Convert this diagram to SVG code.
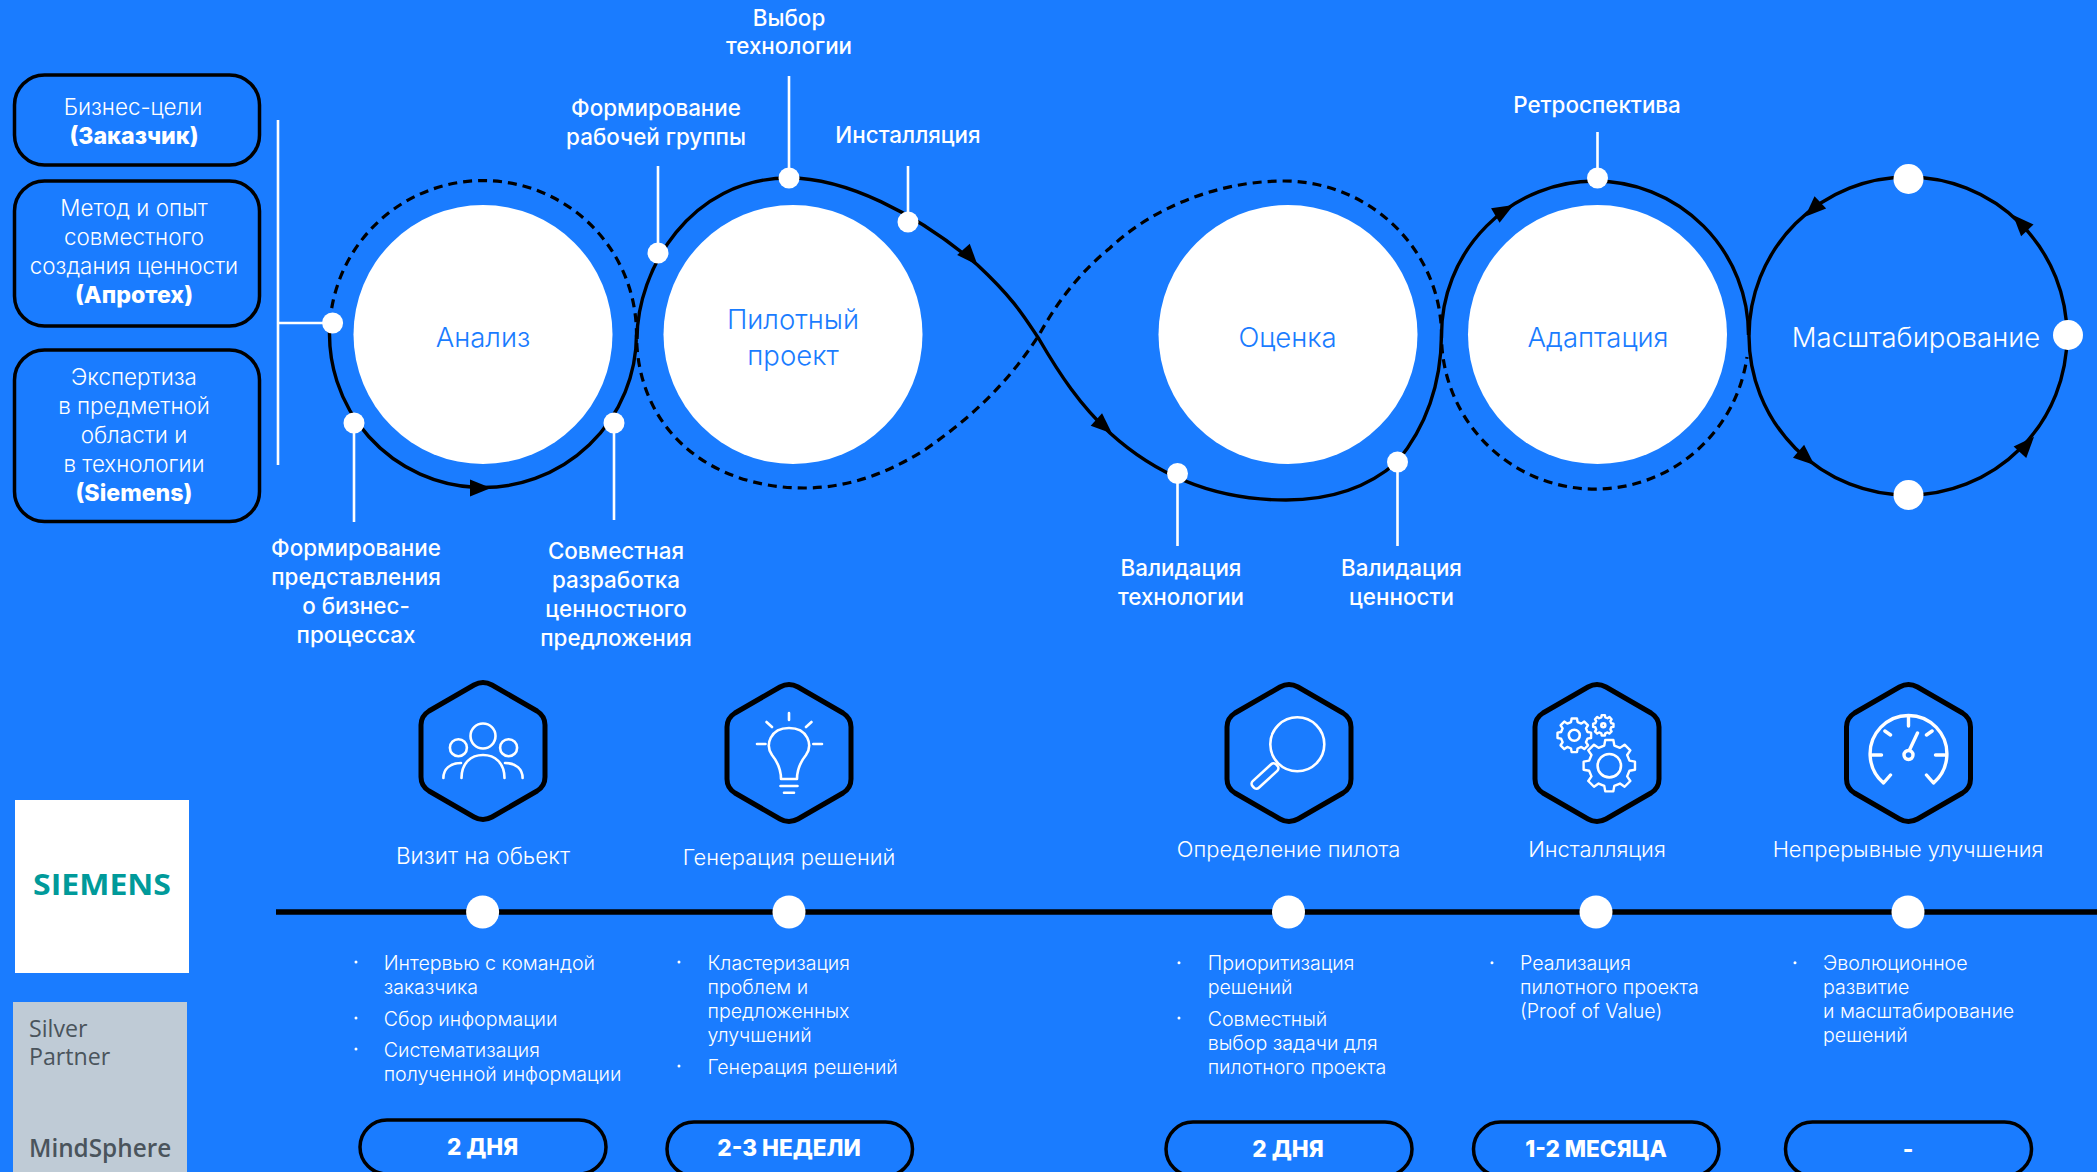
<svg xmlns="http://www.w3.org/2000/svg" width="2097" height="1172" viewBox="0 0 2097 1172">
<style>
text{font-family:"Inter","Liberation Sans",sans-serif;fill:#fff;font-weight:300}
.m{text-anchor:middle}
.box{font-size:22.4px}
.box.b{font-size:23.2px;font-weight:800}
.lab{font-size:22.4px;font-weight:500;text-anchor:middle}
.cir{font-size:27.5px;fill:#1a7cff;text-anchor:middle}
.tit{font-size:21.9px;text-anchor:middle}
.li{font-size:19.6px}
.pt{font-size:22.6px;font-weight:800;text-anchor:middle}
.logo{font-family:"Open Sans","Liberation Sans",sans-serif;fill:#4a545c;font-size:23.2px;font-weight:400}
.frame{fill:none;stroke:#000;stroke-width:3.5}
.hex{fill:none;stroke:#000;stroke-width:5}
.ico{fill:none;stroke:#fff;stroke-width:2.6;stroke-linecap:round;stroke-linejoin:round}
.ico2{stroke-width:3.4}
.gear{fill:none;stroke:#fff;stroke-width:2.4;stroke-linejoin:round;vector-effect:non-scaling-stroke}
.sol{fill:none;stroke:#000;stroke-width:3.4}
.das{fill:none;stroke:#000;stroke-width:3.2;stroke-dasharray:9 6}
.lead{stroke:#fff;stroke-width:2.6;fill:none}
.dot{fill:#fff}
.wc{fill:#fff}
</style>
<defs>
<path id="hexa" class="hex" d="M-9,-66 Q0,-71 9,-66 L54,-40 Q62,-35 62,-26 L62,26 Q62,35 54,40 L9,66 Q0,71 -9,66 L-54,40 Q-62,35 -62,26 L-62,-26 Q-62,-35 -54,-40 Z"/>
<polygon id="ah" points="0,0 -21,-8.5 -21,8.5" fill="#000"/>
<polygon id="gr" class="gear" points="77.6,-19.4 98.8,-15.6 98.8,15.6 77.6,19.4 68.6,41.1 80.9,58.8 58.8,80.9 41.1,68.6 19.4,77.6 15.6,98.8 -15.6,98.8 -19.4,77.6 -41.1,68.6 -58.8,80.9 -80.9,58.8 -68.6,41.1 -77.6,19.4 -98.8,15.6 -98.8,-15.6 -77.6,-19.4 -68.6,-41.1 -80.9,-58.8 -58.8,-80.9 -41.1,-68.6 -19.4,-77.6 -15.6,-98.8 15.6,-98.8 19.4,-77.6 41.1,-68.6 58.8,-80.9 80.9,-58.8 68.6,-41.1"/>
</defs>
<rect width="2097" height="1172" fill="#1a7cff"/>

<g id="input-1"><rect class="frame" x="14.500" y="75" width="245" height="90" rx="30"/><text class="box m" x="133" y="114.500">Бизнес-цели</text><text class="box m b" x="134" y="144">(Заказчик)</text></g>
<g id="input-2"><rect class="frame" x="14.500" y="181" width="245" height="145" rx="30"/><text class="box m" x="134" y="216">Метод и опыт</text><text class="box m" x="134" y="245">совместного</text><text class="box m" x="134" y="274">создания ценности</text><text class="box m b" x="134" y="303">(Апротех)</text></g>
<g id="input-3"><rect class="frame" x="14.500" y="350" width="245" height="171.500" rx="30"/><text class="box m" x="134" y="385">Экспертиза</text><text class="box m" x="134" y="414">в предметной</text><text class="box m" x="134" y="443">области и</text><text class="box m" x="134" y="472">в технологии</text><text class="box m b" x="134" y="501">(Siemens)</text></g>

<g id="connectors">
<path class="lead" d="M278 120V465M278 323H333M354 423V522M614 423V520M658 253V166M789 178V76M908 222V166M1177.500 473V546M1397.500 462V546M1597.500 178V132"/>
<path class="das" d="M329.900 323A153.500 153.500 0 0 1 636.500 334.500C637 430 710 488 804 488C850 488 890 472 926 449C975 415 1010 380 1039 335C1060 297 1083 270 1110 248C1150 210 1215 181 1284 181C1370 181 1441 250 1441.500 335A153.500 153.500 0 0 0 1747 357"/>
<path class="sol" d="M329.900 323A153.500 153.500 0 1 0 636.500 334.500L637 339C637 270 690 178 789 178C845 178 915 212 977.500 265C1015 300 1025 318 1039 339C1060 375 1080 405 1110 433C1165 483 1225 500 1286 500C1335 500 1372 484 1397 462C1425 428 1441 385 1441.500 335A153.500 154 0 0 1 1748.500 335"/>
<circle class="sol" cx="1908" cy="336" r="159"/>
<path d="M276 912H2097" stroke="#000" stroke-width="5.500" fill="none"/>
<use href="#ah" transform="translate(491 488) rotate(0)"/>
<use href="#ah" transform="translate(977.500 265) rotate(48)"/>
<use href="#ah" transform="translate(1112 433.500) rotate(42)"/>
<use href="#ah" transform="translate(1513.500 205) rotate(-30)"/>
<use href="#ah" transform="translate(1805 216.700) rotate(137)"/>
<use href="#ah" transform="translate(2013 215) rotate(-133)"/>
<use href="#ah" transform="translate(2034 436.700) rotate(-48)"/>
<use href="#ah" transform="translate(1814.400 465) rotate(41)"/>
</g>

<g id="stage-analysis"><circle class="wc" cx="483" cy="334.500" r="129.500"/><text class="cir" x="483" y="347">Анализ</text></g>
<g id="stage-pilot"><circle class="wc" cx="793" cy="334.500" r="129.500"/><text class="cir" x="793" y="329">Пилотный</text><text class="cir" x="793" y="365">проект</text></g>
<g id="stage-eval"><circle class="wc" cx="1288" cy="334.500" r="129.500"/><text class="cir" x="1287.500" y="347">Оценка</text></g>
<g id="stage-adapt"><circle class="wc" cx="1597.500" cy="334.500" r="129.500"/><text class="cir" x="1598" y="347">Адаптация</text></g>
<g id="stage-scale"><text class="cir" style="fill:#fff" x="1916" y="347">Масштабирование</text></g>

<g id="dots">
<circle class="dot" cx="332.600" cy="323" r="10.500"/><circle class="dot" cx="354" cy="423" r="10.500"/><circle class="dot" cx="614" cy="423" r="10.500"/>
<circle class="dot" cx="658" cy="253" r="10.500"/><circle class="dot" cx="789" cy="178" r="10.500"/><circle class="dot" cx="908" cy="222" r="10.500"/>
<circle class="dot" cx="1177.500" cy="473.500" r="10.500"/><circle class="dot" cx="1397.500" cy="462" r="10.500"/><circle class="dot" cx="1597.500" cy="178" r="10.500"/>
<circle class="dot" cx="1908.500" cy="179" r="15"/><circle class="dot" cx="1908.500" cy="495" r="15"/><circle class="dot" cx="2068" cy="335" r="15"/>
<circle class="dot" cx="482.600" cy="912" r="16.500"/><circle class="dot" cx="789" cy="912" r="16.500"/><circle class="dot" cx="1288.500" cy="912" r="16.500"/><circle class="dot" cx="1596" cy="912" r="16.500"/><circle class="dot" cx="1908" cy="912" r="16.500"/>
</g>

<g id="labels">
<text class="lab" x="356" y="556">Формирование</text><text class="lab" x="356" y="585">представления</text><text class="lab" x="356" y="614">о бизнес-</text><text class="lab" x="356" y="643">процессах</text>
<text class="lab" x="616" y="559">Совместная</text><text class="lab" x="616" y="587.500">разработка</text><text class="lab" x="616" y="616.500">ценностного</text><text class="lab" x="616" y="645.500">предложения</text>
<text class="lab" x="656" y="116">Формирование</text><text class="lab" x="656" y="145">рабочей группы</text>
<text class="lab" x="789" y="25.500">Выбор</text><text class="lab" x="789" y="54">технологии</text>
<text class="lab" x="908" y="142.500">Инсталляция</text>
<text class="lab" x="1181" y="576">Валидация</text><text class="lab" x="1181" y="605">технологии</text>
<text class="lab" x="1401.500" y="576">Валидация</text><text class="lab" x="1401.500" y="605">ценности</text>
<text class="lab" x="1597" y="112.700">Ретроспектива</text>
</g>

<g id="step-1">
<use href="#hexa" transform="translate(483 751)"/>
<g class="ico" transform="translate(483 751)"><circle cx="0" cy="-15" r="12.500"/><circle cx="-24.600" cy="-3.300" r="8.500"/><circle cx="25.600" cy="-3.300" r="8.500"/><path d="M-21.500 27C-21.500 12 -12 4 0 4S21.500 12 21.500 27M-39.600 27C-39.600 18 -33 12 -22 12M39.600 27C39.600 18 33 12 22 12"/></g>
<text class="tit" x="483" y="864" style="font-size:22.600px">Визит на обьект</text>
<circle class="dot" cx="356" cy="962" r="1.500"/><circle class="dot" cx="356" cy="1018" r="1.500"/><circle class="dot" cx="356" cy="1049" r="1.500"/>
<text class="li" x="383.700" y="970">Интервью с командой</text><text class="li" x="383.700" y="994">заказчика</text><text class="li" x="383.700" y="1026">Сбор информации</text><text class="li" x="383.700" y="1057">Систематизация</text><text class="li" x="383.700" y="1081">полученной информации</text>
<rect class="frame" x="360" y="1120" width="246" height="54" rx="27"/><text class="pt" x="482.600" y="1154.500">2 ДНЯ</text>
</g>

<g id="step-2">
<use href="#hexa" transform="translate(789 753)"/>
<g class="ico" transform="translate(789 753)"><path d="M-8 26C-8 14 -13 7 -17 2C-24 -8 -19 -25 0 -25S24 -8 17 2C13 7 8 14 8 26ZM-8.500 33H8.500M-5 39.700H5M0 -40V-33M-32 -9H-23.500M24.300 -9H33M-22.500 -31L-17 -26M22.500 -31L17 -26"/></g>
<text class="tit" x="789" y="865">Генерация решений</text>
<circle class="dot" cx="679" cy="962" r="1.500"/><circle class="dot" cx="679" cy="1066" r="1.500"/>
<text class="li" x="707.500" y="970">Кластеризация</text><text class="li" x="707.500" y="994">проблем и</text><text class="li" x="707.500" y="1018">предложенных</text><text class="li" x="707.500" y="1042">улучшений</text><text class="li" x="707.500" y="1074">Генерация решений</text>
<rect class="frame" x="667" y="1122" width="245.500" height="54" rx="27"/><text class="pt" x="789" y="1156">2-3 НЕДЕЛИ</text>
</g>

<g id="step-3">
<use href="#hexa" transform="translate(1289 753)"/>
<g class="ico" transform="translate(1289 753)"><circle cx="8.300" cy="-8.700" r="27"/><rect x="-4.500" y="-16" width="9" height="32" rx="3.500" transform="translate(-24 23) rotate(47.500)"/></g>
<text class="tit" x="1288.600" y="856.700">Определение пилота</text>
<circle class="dot" cx="1179" cy="962.700" r="1.500"/><circle class="dot" cx="1179" cy="1018" r="1.500"/>
<text class="li" x="1207.700" y="970">Приоритизация</text><text class="li" x="1207.700" y="994">решений</text><text class="li" x="1207.700" y="1025.700">Совместный</text><text class="li" x="1207.700" y="1050">выбор задачи для</text><text class="li" x="1207.700" y="1074">пилотного проекта</text>
<rect class="frame" x="1166" y="1122" width="246" height="54" rx="27"/><text class="pt" x="1288" y="1156.700">2 ДНЯ</text>
</g>

<g id="step-4">
<use href="#hexa" transform="translate(1597 753)"/>
<use href="#gr" transform="translate(1609.300 765.700) scale(.26)"/><circle class="ico" cx="1609.300" cy="765.700" r="11.700"/>
<use href="#gr" transform="translate(1574.300 735.300) scale(.17)"/><circle class="ico" cx="1574.300" cy="735.300" r="5.500"/>
<use href="#gr" transform="translate(1603.300 725.300) scale(.103)"/><circle class="ico" cx="1603.300" cy="725.300" r="2"/>
<text class="tit" x="1597" y="856.700">Инсталляция</text>
<circle class="dot" cx="1492" cy="962.700" r="1.500"/>
<text class="li" x="1520" y="970">Реализация</text><text class="li" x="1520" y="994">пилотного проекта</text><text class="li" x="1520" y="1018">(Proof of Value)</text>
<rect class="frame" x="1473.500" y="1122" width="245.500" height="54" rx="27"/><text class="pt" x="1596" y="1156.700">1-2 МЕСЯЦА</text>
</g>

<g id="step-5">
<use href="#hexa" transform="translate(1908.500 753)"/>
<g class="ico ico2" transform="translate(1908.500 753)"><path d="M-25 30A38.400 38.400 0 1 1 25 30M0 -35V-27M-36 2H-27M36 2H27M-23.600 -22L-18 -18M23.600 -22L18 -18M-25 30L-18 22M25 30L18 22M1 -3L9 -20"/><circle cx="0" cy="2" r="4.500"/></g>
<text class="tit" x="1908" y="856.700">Непрерывные улучшения</text>
<circle class="dot" cx="1795" cy="962.700" r="1.500"/>
<text class="li" x="1823" y="970">Эволюционное</text><text class="li" x="1823" y="994">развитие</text><text class="li" x="1823" y="1018">и масштабирование</text><text class="li" x="1823" y="1042">решений</text>
<rect class="frame" x="1785.500" y="1122" width="246" height="54" rx="27"/><text class="pt" x="1908" y="1156.700">-</text>
</g>

<g id="logo-siemens"><rect x="15" y="800" width="174" height="173" fill="#fff"/><text x="102" y="895" text-anchor="middle" textLength="138" lengthAdjust="spacingAndGlyphs" style="font-family:'Open Sans','Liberation Sans',sans-serif;font-size:28px;font-weight:700;fill:#009a9a">SIEMENS</text></g>
<g id="logo-partner"><rect x="13" y="1002" width="174" height="170" fill="#bfcbd6"/><text class="logo" x="29" y="1036.700">Silver</text><text class="logo" x="29" y="1065">Partner</text><text class="logo" x="29" y="1156.700" style="font-weight:600;font-size:24.300px">MindSphere</text></g>
</svg>
